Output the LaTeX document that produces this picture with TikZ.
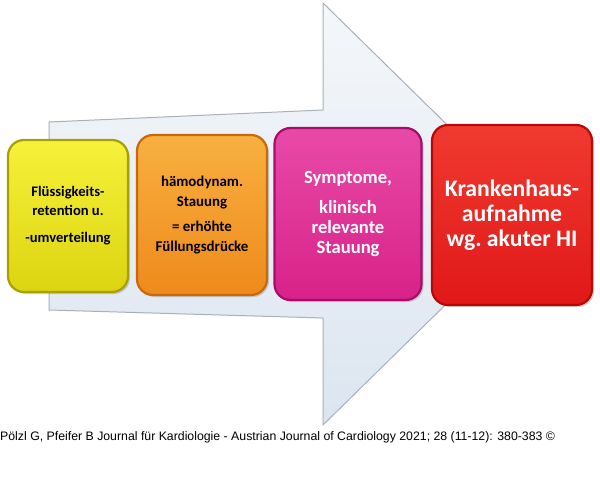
\documentclass[tikz,border=0pt]{standalone}
\usepackage{fontspec}
\setmainfont{Carlito}
\newfontfamily\capfont{Liberation Sans}
\usetikzlibrary{shadows}
\definecolor{arrowedge}{HTML}{A8B0BA}
\definecolor{arrowlight}{HTML}{F4F7FA}
\definecolor{arrowdark}{HTML}{DCE5F0}
\definecolor{yelL}{HTML}{F6F23A}
\definecolor{yelD}{HTML}{DCD410}
\definecolor{yelR}{HTML}{A8A000}
\definecolor{orgL}{HTML}{F8B040}
\definecolor{orgD}{HTML}{EE8A1C}
\definecolor{orgR}{HTML}{C86A08}
\definecolor{magL}{HTML}{E84AA8}
\definecolor{magD}{HTML}{D82288}
\definecolor{magR}{HTML}{A80C68}
\definecolor{redL}{HTML}{F03A30}
\definecolor{redD}{HTML}{E01818}
\definecolor{redR}{HTML}{B80808}
\tikzset{
  bevel/.style={rectangle, rounded corners=16pt, line width=2.2pt, align=center,
    inner sep=0pt,
    drop shadow={shadow xshift=2pt, shadow yshift=-2pt, opacity=0.35}},
  ybox/.style={bevel, top color=yelL, bottom color=yelD, draw=yelR, text=black},
  obox/.style={bevel, top color=orgL, bottom color=orgD, draw=orgR, text=black},
  mbox/.style={bevel, top color=magL, bottom color=magD, draw=magR, text=white},
  rbox/.style={bevel, top color=redL, bottom color=redD, draw=redR, text=white},
  bigarrow/.style={draw=arrowedge, line width=1pt, top color=arrowlight, bottom color=arrowdark},
}
\begin{document}
\begin{tikzpicture}[x=1pt,y=-1pt]
\useasboundingbox (0,0) rectangle (600,495);
\fill[white] (0,0) rectangle (600,495);
% big arrow
\path[bigarrow] (49,122) -- (323,110) -- (323,3) -- (538,214) -- (323,425) -- (323,318) -- (49,310) -- cycle;
% boxes
\node[ybox, minimum width=120pt, minimum height=152pt, font=\bfseries\fontsize{14.6}{19}\selectfont] (b1) at (68,216)
  {Flüssigkeits-\\retention u.\\[8pt]-umverteilung};
\node[obox, minimum width=130pt, minimum height=160pt, font=\bfseries\fontsize{14.9}{20}\selectfont] (b2) at (202,215)
  {hämodynam.\\Stauung\\[5pt]= erhöhte\\Füllungsdrücke};
\node[mbox, minimum width=147pt, minimum height=172pt, font=\bfseries\fontsize{18.6}{20}\selectfont] (b3) at (348,214)
  {Symptome,\\[10pt]klinisch\\relevante\\Stauung};
\node[rbox, minimum width=160pt, minimum height=180pt, font=\bfseries\fontsize{23.7}{25}\selectfont] (b4) at (512,215)
  {Krankenhaus-\\aufnahme\\wg.\ akuter HI};
% caption
\node[anchor=west, inner sep=0pt, font=\capfont\fontsize{12.3}{14}\selectfont] (cap) at (0,437)
  {Pölzl G, Pfeifer B Journal für Kardiologie - Austrian Journal of Cardiology 2021; 28 (11-12): 380-383 ©};
\end{tikzpicture}
\end{document}
